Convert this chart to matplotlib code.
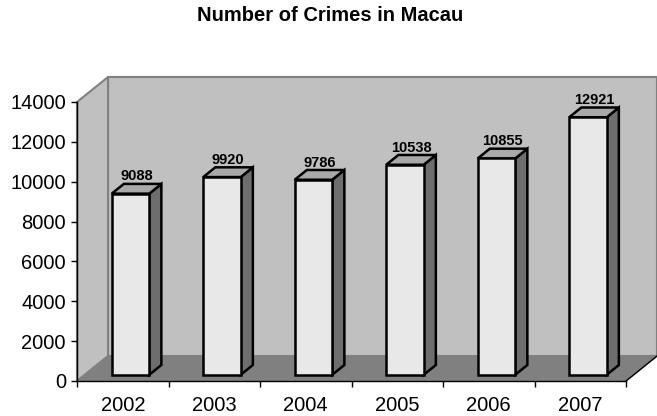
import matplotlib
matplotlib.use("Agg")
import matplotlib.pyplot as plt
from matplotlib.patches import Polygon, Rectangle

plt.rcParams['font.family'] = ['Liberation Sans', 'DejaVu Sans']

# data
years = ["2002", "2003", "2004", "2005", "2006", "2007"]
crimes = [9088, 9920, 9786, 10538, 10855, 12921]

fig = plt.figure(figsize=(6.57, 4.16), dpi=100)
W, H = 657, 416
ax = fig.add_axes([77 / W, (H - 381) / H, (626 - 77) / W, (381 - 102) / H])
ax.set_xlim(0, 6)
ax.set_ylim(0, 14000)

# 3d depth of the walls in data units
Dx, Dy = 0.339, 1254
wall = "#c0c0c0"
edge = "#808080"

ax.add_patch(Polygon([(Dx, Dy), (6 + Dx, Dy), (6 + Dx, 14000 + Dy), (Dx, 14000 + Dy)],
                     closed=True, fc=wall, ec=edge, lw=1.5, clip_on=False, zorder=0))
ax.add_patch(Polygon([(0, 0), (Dx, Dy), (Dx, 14000 + Dy), (0, 14000)],
                     closed=True, fc=wall, ec=edge, lw=1.5, clip_on=False, zorder=0))
ax.add_patch(Polygon([(0, 0), (6, 0), (6 + Dx, Dy), (Dx, Dy)],
                     closed=True, fc="#808080", ec=edge, lw=1, clip_on=False, zorder=0.5))
ax.plot([6, 6 + Dx], [0, Dy], color="black", lw=1, clip_on=False, zorder=1)

# bars
w = 0.41
f = 0.25   # front of bar inside the depth
d = 0.39   # bar depth
for i, v in enumerate(crimes):
    x0 = i + 0.5 + f * Dx - w / 2
    y0 = f * Dy
    bx, by = d * Dx, d * Dy
    ax.add_patch(Polygon([(x0 + w, y0), (x0 + w + bx, y0 + by), (x0 + w + bx, y0 + v + by), (x0 + w, y0 + v)],
                         closed=True, fc="#6e6e6e", ec="black", lw=1.8, clip_on=False, zorder=3,
                         joinstyle="miter"))
    ax.add_patch(Polygon([(x0, y0 + v), (x0 + w, y0 + v), (x0 + w + bx, y0 + v + by), (x0 + bx, y0 + v + by)],
                         closed=True, fc="#a9a9a9", ec="black", lw=1.8, clip_on=False, zorder=3,
                         joinstyle="miter"))
    ax.add_patch(Rectangle((x0, y0), w, v, fc="#e8e8e8", ec="black", lw=1.8,
                           clip_on=False, zorder=4, joinstyle="miter"))
    ax.annotate(str(v), (x0 + w / 2 + bx / 2, y0 + v + by), xytext=(0, 2.5),
                textcoords="offset points", ha="center", va="baseline",
                fontsize=10.5, fontweight="bold", zorder=5, annotation_clip=False)

for s in ["top", "right"]:
    ax.spines[s].set_visible(False)
for s in ["left", "bottom"]:
    ax.spines[s].set_color("black")
    ax.spines[s].set_linewidth(1)
    ax.spines[s].set_zorder(2)
ax.patch.set_visible(False)

ax.set_yticks(range(0, 14001, 2000))
ax.tick_params(axis="y", length=4, width=1, pad=4, labelsize=14.5)
ax.set_xticks(range(7))
ax.set_xticklabels([])
ax.set_xticks([i + 0.5 for i in range(6)], minor=True)
ax.set_xticklabels(years, minor=True)
ax.tick_params(axis="x", which="major", length=4, width=1)
ax.tick_params(axis="x", which="minor", length=0, pad=11, labelsize=14.5)

fig.text(330 / W, 1 - 21 / H, "Number of Crimes in Macau", ha="center", va="baseline",
         fontsize=14.5, fontweight="bold")

fig.savefig("out.png", dpi=100)
